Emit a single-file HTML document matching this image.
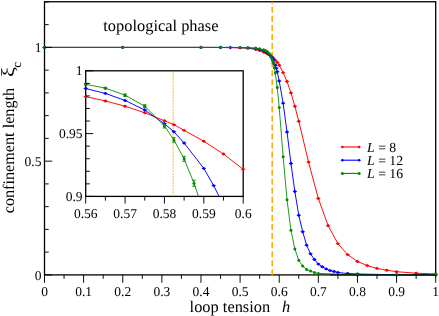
<!DOCTYPE html>
<html><head><meta charset="utf-8"><title>chart</title>
<style>
html,body{margin:0;padding:0;background:#fff;}
body{width:439px;height:316px;overflow:hidden;font-family:"Liberation Serif",serif;}
svg{display:block;will-change:transform;}
svg text{font-family:"Liberation Serif",serif;fill:#000;text-rendering:geometricPrecision;}
</style></head><body>
<svg width="439" height="316" viewBox="0 0 439 316">
<rect width="439" height="316" fill="#fff"/>
<rect x="44.5" y="1.75" width="391.20" height="273.15" fill="none" stroke="#000" stroke-width="1.3"/>
<line x1="272.18" y1="275.30" x2="272.18" y2="1.75" stroke="#ffa500" stroke-width="1.5" stroke-dasharray="6.05 3"/>
<polyline points="44.50,47.40 122.74,47.40 200.98,47.40 220.54,47.51 240.10,47.86 247.92,48.31 255.75,49.45 259.66,50.59 263.57,52.09 265.53,52.86 267.48,53.82 269.44,55.00 271.40,56.45 272.33,57.16 273.35,58.18 275.31,60.16 277.26,62.48 279.22,65.24 283.13,72.65 287.04,81.53 290.96,92.90 294.87,106.19 298.78,121.18 308.56,162.11 318.34,198.53 328.12,225.69 337.90,243.64 347.68,254.63 357.46,261.43 367.24,265.62 377.02,268.42 386.80,270.21 396.58,271.71 416.14,273.19 435.70,273.99" fill="none" stroke="#ff0000" stroke-width="0.95" stroke-linejoin="round"/>
<path d="M42.20 47.40L44.50 45.70L46.80 47.40L44.50 49.10Z" fill="#ff0000"/>
<path d="M120.44 47.40L122.74 45.70L125.04 47.40L122.74 49.10Z" fill="#ff0000"/>
<path d="M198.68 47.40L200.98 45.70L203.28 47.40L200.98 49.10Z" fill="#ff0000"/>
<path d="M218.24 47.51L220.54 45.81L222.84 47.51L220.54 49.21Z" fill="#ff0000"/>
<path d="M237.80 47.86L240.10 46.16L242.40 47.86L240.10 49.56Z" fill="#ff0000"/>
<path d="M245.62 48.31L247.92 46.61L250.22 48.31L247.92 50.01Z" fill="#ff0000"/>
<path d="M253.45 49.45L255.75 47.75L258.05 49.45L255.75 51.15Z" fill="#ff0000"/>
<path d="M257.36 50.59L259.66 48.89L261.96 50.59L259.66 52.29Z" fill="#ff0000"/>
<path d="M261.27 52.09L263.57 50.39L265.87 52.09L263.57 53.79Z" fill="#ff0000"/>
<path d="M263.23 52.86L265.53 51.16L267.83 52.86L265.53 54.56Z" fill="#ff0000"/>
<path d="M265.18 53.82L267.48 52.12L269.78 53.82L267.48 55.52Z" fill="#ff0000"/>
<path d="M267.14 55.00L269.44 53.30L271.74 55.00L269.44 56.70Z" fill="#ff0000"/>
<path d="M269.10 56.45L271.40 54.75L273.70 56.45L271.40 58.15Z" fill="#ff0000"/>
<path d="M270.03 57.16L272.33 55.46L274.63 57.16L272.33 58.86Z" fill="#ff0000"/>
<path d="M271.05 58.18L273.35 56.48L275.65 58.18L273.35 59.88Z" fill="#ff0000"/>
<path d="M273.01 60.16L275.31 58.46L277.61 60.16L275.31 61.86Z" fill="#ff0000"/>
<path d="M274.96 62.48L277.26 60.78L279.56 62.48L277.26 64.18Z" fill="#ff0000"/>
<path d="M276.92 65.24L279.22 63.54L281.52 65.24L279.22 66.94Z" fill="#ff0000"/>
<path d="M280.83 72.65L283.13 70.95L285.43 72.65L283.13 74.35Z" fill="#ff0000"/>
<path d="M284.74 81.53L287.04 79.83L289.34 81.53L287.04 83.23Z" fill="#ff0000"/>
<path d="M288.66 92.90L290.96 91.20L293.26 92.90L290.96 94.60Z" fill="#ff0000"/>
<path d="M292.57 106.19L294.87 104.49L297.17 106.19L294.87 107.89Z" fill="#ff0000"/>
<path d="M296.48 121.18L298.78 119.48L301.08 121.18L298.78 122.88Z" fill="#ff0000"/>
<path d="M306.26 162.11L308.56 160.41L310.86 162.11L308.56 163.81Z" fill="#ff0000"/>
<path d="M316.04 198.53L318.34 196.83L320.64 198.53L318.34 200.23Z" fill="#ff0000"/>
<path d="M325.82 225.69L328.12 223.99L330.42 225.69L328.12 227.39Z" fill="#ff0000"/>
<path d="M335.60 243.64L337.90 241.94L340.20 243.64L337.90 245.34Z" fill="#ff0000"/>
<path d="M345.38 254.63L347.68 252.93L349.98 254.63L347.68 256.33Z" fill="#ff0000"/>
<path d="M355.16 261.43L357.46 259.73L359.76 261.43L357.46 263.13Z" fill="#ff0000"/>
<path d="M364.94 265.62L367.24 263.92L369.54 265.62L367.24 267.32Z" fill="#ff0000"/>
<path d="M374.72 268.42L377.02 266.72L379.32 268.42L377.02 270.12Z" fill="#ff0000"/>
<path d="M384.50 270.21L386.80 268.51L389.10 270.21L386.80 271.91Z" fill="#ff0000"/>
<path d="M394.28 271.71L396.58 270.01L398.88 271.71L396.58 273.41Z" fill="#ff0000"/>
<path d="M413.84 273.19L416.14 271.49L418.44 273.19L416.14 274.89Z" fill="#ff0000"/>
<path d="M433.40 273.99L435.70 272.29L438.00 273.99L435.70 275.69Z" fill="#ff0000"/>
<polyline points="44.50,47.40 122.74,47.40 200.98,47.40 220.54,47.40 230.32,47.45 240.10,47.63 247.92,47.86 255.75,48.54 259.66,49.45 263.57,50.61 265.53,51.50 267.48,52.77 269.44,54.50 271.40,57.00 272.33,58.43 273.35,60.48 275.31,65.08 276.29,68.19 277.26,71.74 279.22,80.93 283.13,103.14 287.04,132.03 290.96,163.49 294.87,191.54 298.78,215.29 302.69,231.77 306.60,245.14 310.52,253.83 314.43,259.52 318.34,264.12 322.25,266.82 326.16,268.92 330.08,270.60 333.99,271.51 337.90,272.51 347.68,273.53 357.46,273.99 396.58,274.79 435.70,274.90" fill="none" stroke="#0000ff" stroke-width="0.95" stroke-linejoin="round"/>
<path d="M42.20 47.40L44.50 45.70L46.80 47.40L44.50 49.10Z" fill="#0000ff"/>
<path d="M120.44 47.40L122.74 45.70L125.04 47.40L122.74 49.10Z" fill="#0000ff"/>
<path d="M198.68 47.40L200.98 45.70L203.28 47.40L200.98 49.10Z" fill="#0000ff"/>
<path d="M218.24 47.40L220.54 45.70L222.84 47.40L220.54 49.10Z" fill="#0000ff"/>
<path d="M228.02 47.45L230.32 45.75L232.62 47.45L230.32 49.15Z" fill="#0000ff"/>
<path d="M237.80 47.63L240.10 45.93L242.40 47.63L240.10 49.33Z" fill="#0000ff"/>
<path d="M245.62 47.86L247.92 46.16L250.22 47.86L247.92 49.56Z" fill="#0000ff"/>
<path d="M253.45 48.54L255.75 46.84L258.05 48.54L255.75 50.24Z" fill="#0000ff"/>
<path d="M257.36 49.45L259.66 47.75L261.96 49.45L259.66 51.15Z" fill="#0000ff"/>
<path d="M261.27 50.61L263.57 48.91L265.87 50.61L263.57 52.31Z" fill="#0000ff"/>
<path d="M263.23 51.50L265.53 49.80L267.83 51.50L265.53 53.20Z" fill="#0000ff"/>
<path d="M265.18 52.77L267.48 51.07L269.78 52.77L267.48 54.47Z" fill="#0000ff"/>
<path d="M267.14 54.50L269.44 52.80L271.74 54.50L269.44 56.20Z" fill="#0000ff"/>
<path d="M269.10 57.00L271.40 55.30L273.70 57.00L271.40 58.70Z" fill="#0000ff"/>
<path d="M270.03 58.43L272.33 56.73L274.63 58.43L272.33 60.13Z" fill="#0000ff"/>
<path d="M271.05 60.48L273.35 58.78L275.65 60.48L273.35 62.18Z" fill="#0000ff"/>
<path d="M273.01 65.08L275.31 63.38L277.61 65.08L275.31 66.78Z" fill="#0000ff"/>
<path d="M273.99 68.19L276.29 66.49L278.59 68.19L276.29 69.89Z" fill="#0000ff"/>
<path d="M274.96 71.74L277.26 70.04L279.56 71.74L277.26 73.44Z" fill="#0000ff"/>
<path d="M276.92 80.93L279.22 79.23L281.52 80.93L279.22 82.63Z" fill="#0000ff"/>
<path d="M280.83 103.14L283.13 101.44L285.43 103.14L283.13 104.84Z" fill="#0000ff"/>
<path d="M284.74 132.03L287.04 130.33L289.34 132.03L287.04 133.73Z" fill="#0000ff"/>
<path d="M288.66 163.49L290.96 161.79L293.26 163.49L290.96 165.19Z" fill="#0000ff"/>
<path d="M292.57 191.54L294.87 189.84L297.17 191.54L294.87 193.24Z" fill="#0000ff"/>
<path d="M296.48 215.29L298.78 213.59L301.08 215.29L298.78 216.99Z" fill="#0000ff"/>
<path d="M300.39 231.77L302.69 230.07L304.99 231.77L302.69 233.47Z" fill="#0000ff"/>
<path d="M304.30 245.14L306.60 243.44L308.90 245.14L306.60 246.84Z" fill="#0000ff"/>
<path d="M308.22 253.83L310.52 252.13L312.82 253.83L310.52 255.53Z" fill="#0000ff"/>
<path d="M312.13 259.52L314.43 257.82L316.73 259.52L314.43 261.22Z" fill="#0000ff"/>
<path d="M316.04 264.12L318.34 262.42L320.64 264.12L318.34 265.82Z" fill="#0000ff"/>
<path d="M319.95 266.82L322.25 265.12L324.55 266.82L322.25 268.52Z" fill="#0000ff"/>
<path d="M323.86 268.92L326.16 267.22L328.46 268.92L326.16 270.62Z" fill="#0000ff"/>
<path d="M327.78 270.60L330.08 268.90L332.38 270.60L330.08 272.30Z" fill="#0000ff"/>
<path d="M331.69 271.51L333.99 269.81L336.29 271.51L333.99 273.21Z" fill="#0000ff"/>
<path d="M335.60 272.51L337.90 270.81L340.20 272.51L337.90 274.21Z" fill="#0000ff"/>
<path d="M345.38 273.53L347.68 271.83L349.98 273.53L347.68 275.23Z" fill="#0000ff"/>
<path d="M355.16 273.99L357.46 272.29L359.76 273.99L357.46 275.69Z" fill="#0000ff"/>
<path d="M394.28 274.79L396.58 273.09L398.88 274.79L396.58 276.49Z" fill="#0000ff"/>
<path d="M433.40 274.90L435.70 273.20L438.00 274.90L435.70 276.60Z" fill="#0000ff"/>
<polyline points="44.50,47.40 122.74,47.40 200.98,47.40 220.54,47.40 240.10,47.40 247.92,47.63 255.75,48.08 259.66,48.77 263.57,49.83 265.53,50.54 267.48,51.81 269.44,53.82 271.40,57.39 272.33,59.91 273.35,63.35 274.33,67.76 275.31,72.99 277.26,87.53 279.22,107.46 283.13,156.83 287.04,199.73 290.96,230.31 294.87,248.96 298.78,260.34 302.69,266.03 306.60,269.44 310.52,271.10 314.43,272.51 318.34,273.40 357.46,274.90 396.58,274.90 435.70,274.90" fill="none" stroke="#008a00" stroke-width="0.88" stroke-linejoin="round"/>
<circle cx="44.50" cy="47.40" r="1.5" fill="#008a00"/>
<circle cx="122.74" cy="47.40" r="1.5" fill="#008a00"/>
<circle cx="200.98" cy="47.40" r="1.5" fill="#008a00"/>
<circle cx="220.54" cy="47.40" r="1.5" fill="#008a00"/>
<circle cx="240.10" cy="47.40" r="1.5" fill="#008a00"/>
<circle cx="247.92" cy="47.63" r="1.5" fill="#008a00"/>
<circle cx="255.75" cy="48.08" r="1.5" fill="#008a00"/>
<circle cx="259.66" cy="48.77" r="1.5" fill="#008a00"/>
<circle cx="263.57" cy="49.83" r="1.5" fill="#008a00"/>
<circle cx="265.53" cy="50.54" r="1.5" fill="#008a00"/>
<circle cx="267.48" cy="51.81" r="1.5" fill="#008a00"/>
<circle cx="269.44" cy="53.82" r="1.5" fill="#008a00"/>
<circle cx="271.40" cy="57.39" r="1.5" fill="#008a00"/>
<circle cx="272.33" cy="59.91" r="1.5" fill="#008a00"/>
<circle cx="273.35" cy="63.35" r="1.5" fill="#008a00"/>
<circle cx="274.33" cy="67.76" r="1.5" fill="#008a00"/>
<circle cx="275.31" cy="72.99" r="1.5" fill="#008a00"/>
<circle cx="277.26" cy="87.53" r="1.5" fill="#008a00"/>
<circle cx="279.22" cy="107.46" r="1.5" fill="#008a00"/>
<circle cx="283.13" cy="156.83" r="1.5" fill="#008a00"/>
<circle cx="287.04" cy="199.73" r="1.5" fill="#008a00"/>
<circle cx="290.96" cy="230.31" r="1.5" fill="#008a00"/>
<circle cx="294.87" cy="248.96" r="1.5" fill="#008a00"/>
<circle cx="298.78" cy="260.34" r="1.5" fill="#008a00"/>
<circle cx="302.69" cy="266.03" r="1.5" fill="#008a00"/>
<circle cx="306.60" cy="269.44" r="1.5" fill="#008a00"/>
<circle cx="310.52" cy="271.10" r="1.5" fill="#008a00"/>
<circle cx="314.43" cy="272.51" r="1.5" fill="#008a00"/>
<circle cx="318.34" cy="273.40" r="1.5" fill="#008a00"/>
<circle cx="357.46" cy="274.90" r="1.5" fill="#008a00"/>
<circle cx="396.58" cy="274.90" r="1.5" fill="#008a00"/>
<circle cx="435.70" cy="274.90" r="1.5" fill="#008a00"/>
<line x1="330.08" y1="274.90" x2="435.70" y2="274.90" stroke="#000" stroke-width="1.3" stroke-opacity="0.8"/>
<circle cx="357.46" cy="274.60" r="1.15" fill="#008a00"/>
<circle cx="396.58" cy="274.60" r="1.15" fill="#008a00"/>
<circle cx="435.70" cy="274.60" r="1.15" fill="#008a00"/>
<line x1="44.50" y1="274.90" x2="52.20" y2="274.90" stroke="#000" stroke-width="0.95" />
<line x1="44.50" y1="252.15" x2="48.70" y2="252.15" stroke="#000" stroke-width="0.95" />
<line x1="44.50" y1="229.40" x2="48.70" y2="229.40" stroke="#000" stroke-width="0.95" />
<line x1="44.50" y1="206.65" x2="48.70" y2="206.65" stroke="#000" stroke-width="0.95" />
<line x1="44.50" y1="183.90" x2="48.70" y2="183.90" stroke="#000" stroke-width="0.95" />
<line x1="44.50" y1="161.15" x2="52.20" y2="161.15" stroke="#000" stroke-width="0.95" />
<line x1="44.50" y1="138.40" x2="48.70" y2="138.40" stroke="#000" stroke-width="0.95" />
<line x1="44.50" y1="115.65" x2="48.70" y2="115.65" stroke="#000" stroke-width="0.95" />
<line x1="44.50" y1="92.90" x2="48.70" y2="92.90" stroke="#000" stroke-width="0.95" />
<line x1="44.50" y1="70.15" x2="48.70" y2="70.15" stroke="#000" stroke-width="0.95" />
<line x1="44.50" y1="47.40" x2="52.20" y2="47.40" stroke="#000" stroke-width="0.95" />
<line x1="44.50" y1="24.65" x2="48.70" y2="24.65" stroke="#000" stroke-width="0.95" />
<line x1="44.50" y1="1.90" x2="48.70" y2="1.90" stroke="#000" stroke-width="0.95" />
<line x1="44.50" y1="274.90" x2="44.50" y2="282.80" stroke="#000" stroke-width="0.95" />
<line x1="64.06" y1="274.90" x2="64.06" y2="278.90" stroke="#000" stroke-width="0.95" />
<line x1="83.62" y1="274.90" x2="83.62" y2="282.80" stroke="#000" stroke-width="0.95" />
<line x1="103.18" y1="274.90" x2="103.18" y2="278.90" stroke="#000" stroke-width="0.95" />
<line x1="122.74" y1="274.90" x2="122.74" y2="282.80" stroke="#000" stroke-width="0.95" />
<line x1="142.30" y1="274.90" x2="142.30" y2="278.90" stroke="#000" stroke-width="0.95" />
<line x1="161.86" y1="274.90" x2="161.86" y2="282.80" stroke="#000" stroke-width="0.95" />
<line x1="181.42" y1="274.90" x2="181.42" y2="278.90" stroke="#000" stroke-width="0.95" />
<line x1="200.98" y1="274.90" x2="200.98" y2="282.80" stroke="#000" stroke-width="0.95" />
<line x1="220.54" y1="274.90" x2="220.54" y2="278.90" stroke="#000" stroke-width="0.95" />
<line x1="240.10" y1="274.90" x2="240.10" y2="282.80" stroke="#000" stroke-width="0.95" />
<line x1="259.66" y1="274.90" x2="259.66" y2="278.90" stroke="#000" stroke-width="0.95" />
<line x1="279.22" y1="274.90" x2="279.22" y2="282.80" stroke="#000" stroke-width="0.95" />
<line x1="298.78" y1="274.90" x2="298.78" y2="278.90" stroke="#000" stroke-width="0.95" />
<line x1="318.34" y1="274.90" x2="318.34" y2="282.80" stroke="#000" stroke-width="0.95" />
<line x1="337.90" y1="274.90" x2="337.90" y2="278.90" stroke="#000" stroke-width="0.95" />
<line x1="357.46" y1="274.90" x2="357.46" y2="282.80" stroke="#000" stroke-width="0.95" />
<line x1="377.02" y1="274.90" x2="377.02" y2="278.90" stroke="#000" stroke-width="0.95" />
<line x1="396.58" y1="274.90" x2="396.58" y2="282.80" stroke="#000" stroke-width="0.95" />
<line x1="416.14" y1="274.90" x2="416.14" y2="278.90" stroke="#000" stroke-width="0.95" />
<line x1="435.70" y1="274.90" x2="435.70" y2="282.80" stroke="#000" stroke-width="0.95" />
<rect x="85.7" y="70.8" width="157.50" height="125.60" fill="#fff" stroke="#000" stroke-width="1.3"/>
<clipPath id="ic"><rect x="85.7" y="70.8" width="157.50" height="125.60"/></clipPath>
<g clip-path="url(#ic)">
<line x1="173.11" y1="196.40" x2="173.11" y2="70.80" stroke="#ffa500" stroke-width="0.8" stroke-dasharray="2.1 0.95"/>
</g>
<g clip-path="url(#ic)">
<polyline points="46.32,88.38 85.70,96.67 105.39,100.94 125.07,106.22 144.76,112.75 164.45,120.79 173.90,124.68 184.14,130.33 203.82,141.26 223.51,154.07 243.20,169.27 282.57,210.22" fill="none" stroke="#ff0000" stroke-width="0.95" stroke-linejoin="round"/>
</g>
<path d="M83.40 96.67L85.70 94.97L88.00 96.67L85.70 98.37Z" fill="#ff0000"/>
<path d="M103.09 100.94L105.39 99.24L107.69 100.94L105.39 102.64Z" fill="#ff0000"/>
<path d="M122.77 106.22L125.07 104.52L127.37 106.22L125.07 107.92Z" fill="#ff0000"/>
<path d="M142.46 112.75L144.76 111.05L147.06 112.75L144.76 114.45Z" fill="#ff0000"/>
<path d="M162.15 120.79L164.45 119.09L166.75 120.79L164.45 122.49Z" fill="#ff0000"/>
<path d="M171.60 124.68L173.90 122.98L176.20 124.68L173.90 126.38Z" fill="#ff0000"/>
<path d="M181.84 130.33L184.14 128.63L186.44 130.33L184.14 132.03Z" fill="#ff0000"/>
<path d="M201.52 141.26L203.82 139.56L206.12 141.26L203.82 142.96Z" fill="#ff0000"/>
<path d="M221.21 154.07L223.51 152.37L225.81 154.07L223.51 155.77Z" fill="#ff0000"/>
<path d="M240.90 169.27L243.20 167.57L245.50 169.27L243.20 170.97Z" fill="#ff0000"/>
<g clip-path="url(#ic)">
<polyline points="46.32,82.10 85.70,88.51 105.39,93.41 125.07,100.44 144.76,109.99 164.45,123.80 173.90,131.72 184.14,143.02 203.82,168.39 213.67,185.60 223.51,205.19 243.20,255.93 282.57,378.52" fill="none" stroke="#0000ff" stroke-width="0.95" stroke-linejoin="round"/>
</g>
<path d="M83.40 88.51L85.70 86.81L88.00 88.51L85.70 90.21Z" fill="#0000ff"/>
<path d="M103.09 93.41L105.39 91.71L107.69 93.41L105.39 95.11Z" fill="#0000ff"/>
<path d="M122.77 100.44L125.07 98.74L127.37 100.44L125.07 102.14Z" fill="#0000ff"/>
<path d="M142.46 109.99L144.76 108.29L147.06 109.99L144.76 111.69Z" fill="#0000ff"/>
<path d="M162.15 123.80L164.45 122.10L166.75 123.80L164.45 125.50Z" fill="#0000ff"/>
<path d="M171.60 131.72L173.90 130.02L176.20 131.72L173.90 133.42Z" fill="#0000ff"/>
<path d="M181.84 143.02L184.14 141.32L186.44 143.02L184.14 144.72Z" fill="#0000ff"/>
<path d="M201.52 168.39L203.82 166.69L206.12 168.39L203.82 170.09Z" fill="#0000ff"/>
<path d="M211.37 185.60L213.67 183.90L215.97 185.60L213.67 187.30Z" fill="#0000ff"/>
<g clip-path="url(#ic)">
<polyline points="46.32,78.34 85.70,84.24 105.39,88.13 125.07,95.17 144.76,106.22 164.45,125.94 173.90,139.88 184.14,158.85 193.98,183.21 203.82,212.10 223.51,292.36 243.20,402.38 282.57,674.94" fill="none" stroke="#008a00" stroke-width="0.88" stroke-linejoin="round"/>
</g>
<circle cx="85.70" cy="84.24" r="1.5" fill="#008a00"/>
<line x1="85.70" y1="83.44" x2="85.70" y2="85.04" stroke="#008a00" stroke-width="0.9" />
<line x1="83.90" y1="83.44" x2="87.50" y2="83.44" stroke="#008a00" stroke-width="0.9" />
<line x1="83.90" y1="85.04" x2="87.50" y2="85.04" stroke="#008a00" stroke-width="0.9" />
<circle cx="105.39" cy="88.13" r="1.5" fill="#008a00"/>
<line x1="105.39" y1="87.33" x2="105.39" y2="88.93" stroke="#008a00" stroke-width="0.9" />
<line x1="103.59" y1="87.33" x2="107.19" y2="87.33" stroke="#008a00" stroke-width="0.9" />
<line x1="103.59" y1="88.93" x2="107.19" y2="88.93" stroke="#008a00" stroke-width="0.9" />
<circle cx="125.07" cy="95.17" r="1.5" fill="#008a00"/>
<line x1="125.07" y1="93.97" x2="125.07" y2="96.37" stroke="#008a00" stroke-width="0.9" />
<line x1="123.27" y1="93.97" x2="126.87" y2="93.97" stroke="#008a00" stroke-width="0.9" />
<line x1="123.27" y1="96.37" x2="126.87" y2="96.37" stroke="#008a00" stroke-width="0.9" />
<circle cx="144.76" cy="106.22" r="1.5" fill="#008a00"/>
<line x1="144.76" y1="104.72" x2="144.76" y2="107.72" stroke="#008a00" stroke-width="0.9" />
<line x1="142.96" y1="104.72" x2="146.56" y2="104.72" stroke="#008a00" stroke-width="0.9" />
<line x1="142.96" y1="107.72" x2="146.56" y2="107.72" stroke="#008a00" stroke-width="0.9" />
<circle cx="164.45" cy="125.94" r="1.5" fill="#008a00"/>
<line x1="164.45" y1="123.94" x2="164.45" y2="127.94" stroke="#008a00" stroke-width="0.9" />
<line x1="162.65" y1="123.94" x2="166.25" y2="123.94" stroke="#008a00" stroke-width="0.9" />
<line x1="162.65" y1="127.94" x2="166.25" y2="127.94" stroke="#008a00" stroke-width="0.9" />
<circle cx="173.90" cy="139.88" r="1.5" fill="#008a00"/>
<line x1="173.90" y1="137.68" x2="173.90" y2="142.08" stroke="#008a00" stroke-width="0.9" />
<line x1="172.10" y1="137.68" x2="175.70" y2="137.68" stroke="#008a00" stroke-width="0.9" />
<line x1="172.10" y1="142.08" x2="175.70" y2="142.08" stroke="#008a00" stroke-width="0.9" />
<circle cx="184.14" cy="158.85" r="1.5" fill="#008a00"/>
<line x1="184.14" y1="156.35" x2="184.14" y2="161.35" stroke="#008a00" stroke-width="0.9" />
<line x1="182.34" y1="156.35" x2="185.94" y2="156.35" stroke="#008a00" stroke-width="0.9" />
<line x1="182.34" y1="161.35" x2="185.94" y2="161.35" stroke="#008a00" stroke-width="0.9" />
<circle cx="193.98" cy="183.21" r="1.5" fill="#008a00"/>
<line x1="193.98" y1="180.21" x2="193.98" y2="186.21" stroke="#008a00" stroke-width="0.9" />
<line x1="192.18" y1="180.21" x2="195.78" y2="180.21" stroke="#008a00" stroke-width="0.9" />
<line x1="192.18" y1="186.21" x2="195.78" y2="186.21" stroke="#008a00" stroke-width="0.9" />
<line x1="85.70" y1="196.40" x2="93.20" y2="196.40" stroke="#000" stroke-width="0.95" />
<line x1="85.70" y1="183.84" x2="89.90" y2="183.84" stroke="#000" stroke-width="0.95" />
<line x1="85.70" y1="171.28" x2="89.90" y2="171.28" stroke="#000" stroke-width="0.95" />
<line x1="85.70" y1="158.72" x2="89.90" y2="158.72" stroke="#000" stroke-width="0.95" />
<line x1="85.70" y1="146.16" x2="89.90" y2="146.16" stroke="#000" stroke-width="0.95" />
<line x1="85.70" y1="133.60" x2="93.20" y2="133.60" stroke="#000" stroke-width="0.95" />
<line x1="85.70" y1="121.04" x2="89.90" y2="121.04" stroke="#000" stroke-width="0.95" />
<line x1="85.70" y1="108.48" x2="89.90" y2="108.48" stroke="#000" stroke-width="0.95" />
<line x1="85.70" y1="95.92" x2="89.90" y2="95.92" stroke="#000" stroke-width="0.95" />
<line x1="85.70" y1="83.36" x2="89.90" y2="83.36" stroke="#000" stroke-width="0.95" />
<line x1="85.70" y1="70.80" x2="93.20" y2="70.80" stroke="#000" stroke-width="0.95" />
<line x1="85.70" y1="196.40" x2="85.70" y2="203.60" stroke="#000" stroke-width="0.95" />
<line x1="105.39" y1="196.40" x2="105.39" y2="200.60" stroke="#000" stroke-width="0.95" />
<line x1="125.08" y1="196.40" x2="125.08" y2="203.60" stroke="#000" stroke-width="0.95" />
<line x1="144.76" y1="196.40" x2="144.76" y2="200.60" stroke="#000" stroke-width="0.95" />
<line x1="164.45" y1="196.40" x2="164.45" y2="203.60" stroke="#000" stroke-width="0.95" />
<line x1="184.14" y1="196.40" x2="184.14" y2="200.60" stroke="#000" stroke-width="0.95" />
<line x1="203.83" y1="196.40" x2="203.83" y2="203.60" stroke="#000" stroke-width="0.95" />
<line x1="223.51" y1="196.40" x2="223.51" y2="200.60" stroke="#000" stroke-width="0.95" />
<line x1="243.20" y1="196.40" x2="243.20" y2="203.60" stroke="#000" stroke-width="0.95" />
<line x1="342.30" y1="147.00" x2="359.20" y2="147.00" stroke="#ff0000" stroke-width="1.1" />
<path d="M340.50 147.00L342.30 145.50L344.10 147.00L342.30 148.50Z" fill="#ff0000"/>
<path d="M357.40 147.00L359.20 145.50L361.00 147.00L359.20 148.50Z" fill="#ff0000"/>
<line x1="342.30" y1="160.20" x2="359.20" y2="160.20" stroke="#0000ff" stroke-width="1.1" />
<path d="M340.50 160.20L342.30 158.70L344.10 160.20L342.30 161.70Z" fill="#0000ff"/>
<path d="M357.40 160.20L359.20 158.70L361.00 160.20L359.20 161.70Z" fill="#0000ff"/>
<line x1="342.30" y1="173.40" x2="359.20" y2="173.40" stroke="#008a00" stroke-width="1.1" />
<circle cx="342.30" cy="173.40" r="1.5" fill="#008a00"/>
<circle cx="359.20" cy="173.40" r="1.5" fill="#008a00"/>
<text x="44.50" y="296.40" font-size="13.5" text-anchor="middle" >0</text>
<text x="83.62" y="296.40" font-size="13.5" text-anchor="middle" >0.1</text>
<text x="122.74" y="296.40" font-size="13.5" text-anchor="middle" >0.2</text>
<text x="161.86" y="296.40" font-size="13.5" text-anchor="middle" >0.3</text>
<text x="200.98" y="296.40" font-size="13.5" text-anchor="middle" >0.4</text>
<text x="240.10" y="296.40" font-size="13.5" text-anchor="middle" >0.5</text>
<text x="279.22" y="296.40" font-size="13.5" text-anchor="middle" >0.6</text>
<text x="318.34" y="296.40" font-size="13.5" text-anchor="middle" >0.7</text>
<text x="357.46" y="296.40" font-size="13.5" text-anchor="middle" >0.8</text>
<text x="396.58" y="296.40" font-size="13.5" text-anchor="middle" >0.9</text>
<text x="435.70" y="296.40" font-size="13.5" text-anchor="middle" >1</text>
<text x="41.40" y="279.50" font-size="13.5" text-anchor="end" >0</text>
<text x="41.40" y="165.75" font-size="13.5" text-anchor="end" >0.5</text>
<text x="41.40" y="52.00" font-size="13.5" text-anchor="end" >1</text>
<text x="82.60" y="201.00" font-size="13.5" text-anchor="end" >0.9</text>
<text x="82.60" y="138.20" font-size="13.5" text-anchor="end" >0.95</text>
<text x="82.60" y="75.40" font-size="13.5" text-anchor="end" >1</text>
<text x="85.70" y="217.70" font-size="13.5" text-anchor="middle" >0.56</text>
<text x="125.08" y="217.70" font-size="13.5" text-anchor="middle" >0.57</text>
<text x="164.45" y="217.70" font-size="13.5" text-anchor="middle" >0.58</text>
<text x="203.83" y="217.70" font-size="13.5" text-anchor="middle" >0.59</text>
<text x="243.20" y="217.70" font-size="13.5" text-anchor="middle" >0.6</text>
<text x="103.30" y="30.50" font-size="16.4" text-anchor="start" >topological phase</text>
<text x="189.60" y="312.00" font-size="16.4" text-anchor="start" >loop tension</text>
<text x="282.00" y="312.00" font-size="16.4" text-anchor="start" font-style="italic">h</text>
<text x="367.00" y="151.50" font-size="13.8" text-anchor="start" ><tspan font-style="italic">L</tspan> = 8</text>
<text x="367.00" y="164.60" font-size="13.8" text-anchor="start" ><tspan font-style="italic">L</tspan> = 12</text>
<text x="367.00" y="177.70" font-size="13.8" text-anchor="start" ><tspan font-style="italic">L</tspan> = 16</text>
<g transform="translate(13.9,213.3) rotate(-90)"><text x="0" y="0" font-size="16.2">confinement length</text><text transform="translate(136.4,0.5) scale(1.22,1)" font-size="18.5">ξ</text><text x="145.6" y="7" font-size="13">c</text></g>
</svg>
</body></html>
